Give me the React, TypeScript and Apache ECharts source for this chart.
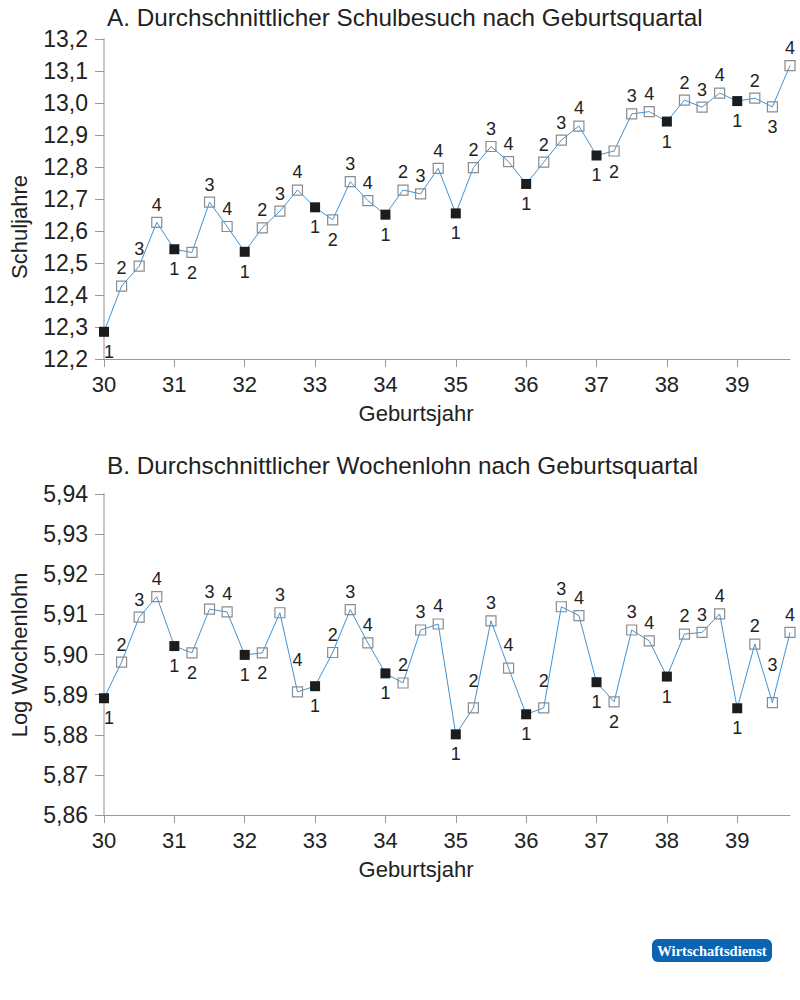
import React, { useEffect, useRef } from 'react';
import * as echarts from 'echarts';

const FONT = '"Liberation Sans", Arial, Helvetica, sans-serif';

const birthQuarters = [
  30, 30.25, 30.5, 30.75, 31, 31.25, 31.5, 31.75, 32, 32.25, 32.5, 32.75,
  33, 33.25, 33.5, 33.75, 34, 34.25, 34.5, 34.75, 35, 35.25, 35.5, 35.75,
  36, 36.25, 36.5, 36.75, 37, 37.25, 37.5, 37.75, 38, 38.25, 38.5, 38.75,
  39, 39.25, 39.5, 39.75,
];

const quarterLabels = [
  '1', '2', '3', '4', '1', '2', '3', '4', '1', '2', '3', '4',
  '1', '2', '3', '4', '1', '2', '3', '4', '1', '2', '3', '4',
  '1', '2', '3', '4', '1', '2', '3', '4', '1', '2', '3', '4',
  '1', '2', '3', '4',
];

const yearTicks = [30, 31, 32, 33, 34, 35, 36, 37, 38, 39];

const schoolYears = [
  12.285, 12.428, 12.49, 12.627, 12.543, 12.533, 12.69, 12.614,
  12.535, 12.61, 12.662, 12.728, 12.674, 12.635, 12.754, 12.695,
  12.651, 12.728, 12.716, 12.796, 12.655, 12.798, 12.864, 12.817,
  12.747, 12.815, 12.884, 12.928, 12.836, 12.85, 12.966, 12.973,
  12.942, 13.009, 12.987, 13.031, 13.006, 13.015, 12.988, 13.117,
];

const logWage = [
  5.8891, 5.8981, 5.9093, 5.9144, 5.9021, 5.9004, 5.9113, 5.9106,
  5.8999, 5.9004, 5.9104, 5.8907, 5.8921, 5.9005, 5.9112, 5.9029,
  5.8953, 5.8929, 5.9061, 5.9076, 5.8801, 5.8867, 5.9084, 5.8966,
  5.8851, 5.8867, 5.9119, 5.9097, 5.8931, 5.8882, 5.9061, 5.9034,
  5.8945, 5.9051, 5.9055, 5.9101, 5.8866, 5.9026, 5.888, 5.9055,
];

const labelSideA = [
  'below', 'above', 'above', 'above', 'below', 'below', 'above', 'above',
  'below', 'above', 'above', 'above', 'below', 'below', 'above', 'above',
  'below', 'above', 'above', 'above', 'below', 'above', 'above', 'above',
  'below', 'above', 'above', 'above', 'below', 'below', 'above', 'above',
  'below', 'above', 'above', 'above', 'below', 'above', 'below', 'above',
];

const labelSideB = [
  'below', 'above', 'above', 'above', 'below', 'below', 'above', 'above',
  'below', 'below', 'above', 'above', 'below', 'above', 'above', 'above',
  'below', 'above', 'above', 'above', 'below', 'above', 'above', 'above',
  'below', 'above', 'above', 'above', 'below', 'below', 'above', 'above',
  'below', 'above', 'above', 'above', 'below', 'above', 'above', 'above',
];

// extra label gap (px) for labels sitting in narrow dips of panel B
const extraGapB: Record<number, number> = { 11: 14, 21: 9, 23: 6, 25: 9, 38: 20 };

const yTickA = [12.2, 12.3, 12.4, 12.5, 12.6, 12.7, 12.8, 12.9, 13.0, 13.1, 13.2];
const yTickB = [5.86, 5.87, 5.88, 5.89, 5.9, 5.91, 5.92, 5.93, 5.94];

function makeSeries(values: number[], sides: string[], idx: number, extra: Record<number, number>) {
  return {
    type: 'line',
    xAxisIndex: idx,
    yAxisIndex: idx,
    symbol: 'rect',
    symbolSize: 10,
    lineStyle: { color: '#3f93d6', width: 1 },
    emphasis: { disabled: true },
    label: {
      show: true,
      fontSize: 18,
      fontFamily: FONT,
      color: '#222',
      formatter: (p: any) => quarterLabels[p.dataIndex],
    },
    data: values.map((v, i) => ({
      value: [birthQuarters[i], v],
      itemStyle:
        quarterLabels[i] === '1'
          ? { color: '#1c1c1c', borderWidth: 0 }
          : { color: 'rgba(255,255,255,0)', borderColor: '#8c8c8c', borderWidth: 1.2 },
      label: {
        position: sides[i] === 'above' ? 'top' : 'bottom',
        distance: (sides[i] === 'above' ? 3 : 6) + (extra[i] || 0),
        offset: i === 0 ? [5, 0] : [0, 0],
      },
    })),
  };
}

function xAxisCfg(idx: number) {
  return {
    type: 'value',
    gridIndex: idx,
    min: 30,
    max: 39.75,
    interval: 1,
    axisLine: { show: true, lineStyle: { color: '#999', width: 1 } },
    axisTick: { show: true, length: 8, customValues: yearTicks, lineStyle: { color: '#999' } },
    axisLabel: {
      customValues: yearTicks,
      fontSize: 22,
      fontFamily: FONT,
      color: '#222',
      margin: 14,
      formatter: (v: number) => String(v),
    },
    splitLine: { show: false },
  };
}

function yAxisCfg(idx: number, ticks: number[], digits: number) {
  return {
    type: 'value',
    gridIndex: idx,
    min: ticks[0],
    max: ticks[ticks.length - 1],
    axisLine: { show: true, lineStyle: { color: '#c6c6c6', width: 2 } },
    axisTick: { show: true, length: 9, customValues: ticks, lineStyle: { color: '#999' } },
    axisLabel: {
      customValues: ticks,
      fontSize: 23,
      fontFamily: FONT,
      color: '#222',
      margin: 16,
      formatter: (v: number) => v.toFixed(digits).replace('.', ','),
    },
    splitLine: { show: false },
  };
}

function txt(text: string, x: number, y: number, size: number, extra: any = {}) {
  return {
    type: 'text',
    x,
    y,
    style: {
      text,
      fontSize: size,
      fontFamily: FONT,
      fill: '#222',
      align: extra.align || 'left',
      verticalAlign: 'middle',
    },
  };
}

export default function App() {
  const ref = useRef<HTMLDivElement>(null);
  useEffect(() => {
    document.body.style.margin = '0';
    const chart = echarts.init(ref.current!, undefined, { renderer: 'svg' });
    chart.setOption({
      animation: false,
      backgroundColor: '#fff',
      grid: [
        { left: 104, top: 39, width: 686, height: 320, outerBoundsMode: 'none', containLabel: false },
        { left: 104, top: 494, width: 686, height: 321, outerBoundsMode: 'none', containLabel: false },
      ],
      xAxis: [xAxisCfg(0), xAxisCfg(1)],
      yAxis: [yAxisCfg(0, yTickA, 1), yAxisCfg(1, yTickB, 2)],
      series: [
        makeSeries(schoolYears, labelSideA, 0, {}),
        makeSeries(logWage, labelSideB, 1, extraGapB),
      ],
      graphic: [
        txt('A. Durchschnittlicher Schulbesuch nach Geburtsquartal', 107, 17, 24.3),
        txt('B. Durchschnittlicher Wochenlohn nach Geburtsquartal', 107, 465, 24.3),
        { type: 'text', x: 19, y: 227, rotation: Math.PI / 2,
          style: { text: 'Schuljahre', fontSize: 22, fontFamily: FONT, fill: '#222', align: 'center', verticalAlign: 'middle' } },
        { type: 'text', x: 19, y: 655, rotation: Math.PI / 2,
          style: { text: 'Log Wochenlohn', fontSize: 22, fontFamily: FONT, fill: '#222', align: 'center', verticalAlign: 'middle' } },
        txt('Geburtsjahr', 416, 413, 22, { align: 'center' }),
        txt('Geburtsjahr', 416, 869, 22, { align: 'center' }),
        { type: 'rect', shape: { x: 652, y: 939, width: 120, height: 23, r: 6 }, style: { fill: '#0b64b3' } },
        { type: 'text', x: 712, y: 951,
          style: { text: 'Wirtschaftsdienst', fontSize: 14.5, fontWeight: 'bold', fontFamily: '"Liberation Serif", "DejaVu Serif", serif', fill: '#fff', align: 'center', verticalAlign: 'middle' } },
      ],
    });
    return () => chart.dispose();
  }, []);
  return <div ref={ref} style={{ width: 800, height: 1000 }} />;
}
